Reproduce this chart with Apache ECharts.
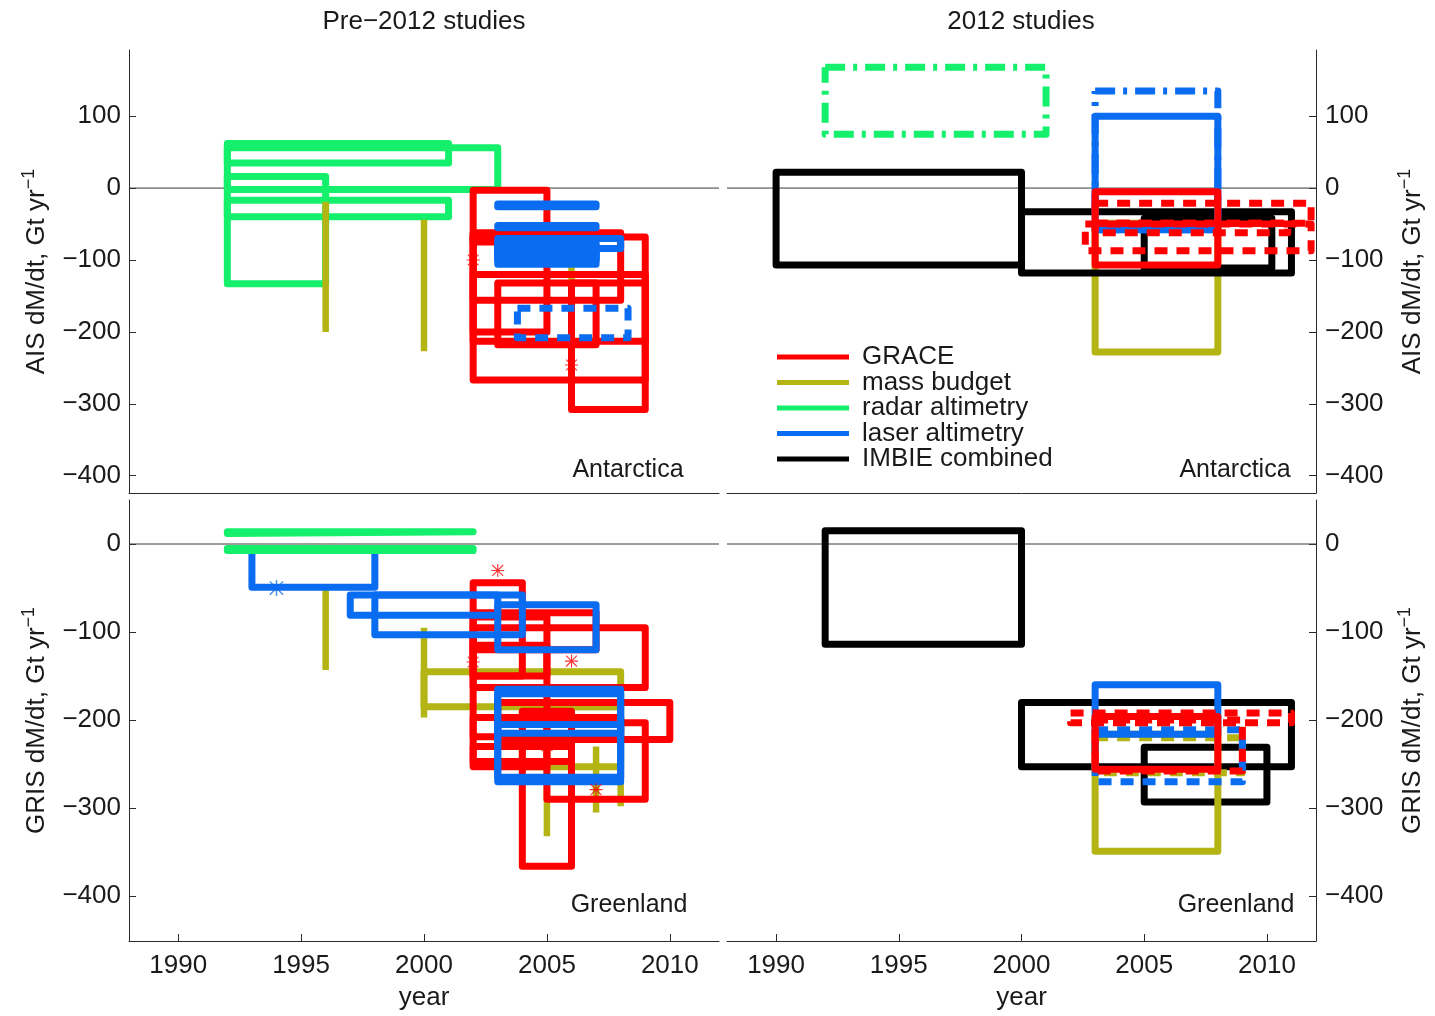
<!DOCTYPE html>
<html>
<head>
<meta charset="utf-8">
<script src="https://cdn.jsdelivr.net/npm/echarts@6/dist/echarts.min.js"></script>
<style>
  html, body { margin: 0; padding: 0; background: #fff; }
  #chart { width: 1435px; height: 1016px; }
</style>
</head>
<body>
<div id="chart"></div>
<script>
// ---- axis ticks and legend entries ----
const yearTicks = [1990, 1995, 2000, 2005, 2010];
const aisTicks = [-400, -300, -200, -100, 0, 100];
const grisTicks = [-400, -300, -200, -100, 0];
const legendNames = ['GRACE', 'mass budget', 'radar altimetry', 'laser altimetry', 'IMBIE combined'];

// ---- estimates ----
// boxes: [start year, end year, lower dM/dt, upper dM/dt]  (Gt/yr)
// bars:  [year, lower dM/dt, upper dM/dt]
// stars: [year, dM/dt]

// Antarctica, pre-2012 studies
const aisPreRadar = [[1992, 2001, 35, 62], [1992, 2003, -2, 56], [1992, 1996, -133, 16], [1992, 2001, -40, -17]];
const aisPreMassBudget = [[1996, -200, -19], [2000, -227, -44], [2006, -290, -108]];
const aisPreGrace = [
  [2002, 2005, -75, -3], [2002, 2008, -156, -62], [2002, 2009, -213, -68], [2002, 2009, -267, -120],
  [2006, 2009, -308, -132], [2003, 2007, -218, -132], [2002, 2005, -200, -66]
];
const aisPreGraceStars = [[2002, -100], [2006, -246]];
const aisPreLaser = [
  [2003, 2007, -26, -22], [2003, 2007, -55, -52], [2003, 2008, -84, -70],
  [2003, 2007, -92, -76], [2003, 2007, -98, -80], [2003, 2007, -100, -86], [2003, 2007, -106, -94]
];
const aisPreLaserDashed = [[2003.8, 2008.3, -208, -167]];

// Antarctica, 2012 studies
const aisNewRadarDashDot = [[1992, 2001, 75, 168]];
const aisNewMassBudget = [[2003, 2008, -228, -49]];
const aisNewImbie = [[1990, 2000, -107, 22], [2000, 2011, -118, -33], [2005, 2010.2, -111, -42]];
const aisNewLaser = [[2003, 2008, -58, 100]];
const aisNewLaserDashDot = [[2003, 2008, -58, 135]];
const aisNewGrace = [[2003, 2008, -107, -5]];
const aisNewGraceDashed = [[2003, 2011.8, -49, -21], [2002.6, 2011.8, -87, -50], [2003, 2010.85, -62, -49]];

// Greenland, pre-2012 studies
const grisPreRadar = [[1992, 2002, 12, 14], [1992, 2002, -7.5, -5]];
const grisPreMassBudget = [[1996, -143, -50], [2000, -197, -95], [2005, -332, -200], [2006, -301, -224], [2007, -305, -230], [2008, -298, -210]];
const grisPreMassBudgetBoxes = [[2000, 2008, -185, -145], [2004, 2008, -253, -185]];
const grisPreGrace = [
  [2002, 2004, -150, -44], [2002, 2007, -120, -78], [2002, 2009, -163, -95], [2002, 2005, -150, -83],
  [2002, 2005, -253, -115], [2002, 2008, -219, -197], [2002, 2006, -247, -230], [2003, 2010, -222, -180],
  [2005, 2009, -290, -203], [2004, 2006, -366, -190]
];
const grisPreGraceStars = [[2003, -30], [2002, -134], [2006, -133], [2005, -229], [2007, -279]];
const grisPreLaser = [
  [1993, 1998, -49, -7], [1997, 2003, -81, -58], [1998, 2004, -103, -58], [2003, 2007, -120, -69],
  [2003, 2008, -265, -165], [2003, 2008, -215, -170], [2003, 2008, -270, -205]
];
const grisPreLaserStars = [[1994, -50]];

// Greenland, 2012 studies
const grisNewImbie = [[1992, 2000, -114, 15], [2000, 2011, -253, -180], [2005, 2010, -293, -231]];
const grisNewMassBudget = [[2003, 2008, -349, -216]];
const grisNewMassBudgetDashed = [[2003, 2009, -260, -220]];
const grisNewLaser = [[2003, 2008, -216, -160]];
const grisNewLaserDashed = [[2003, 2009, -270, -211]];
const grisNewGrace = [[2003, 2008, -256, -196]];
const grisNewGraceDashed = [[2002, 2011, -203, -192], [2003, 2009, -258, -200]];

// ---- styling ----
const FONT = '"Liberation Sans", Arial, Helvetica, sans-serif';
const INK = '#1a1a1a';
const AXIS = '#2a2a2a';
const COL = { grace: '#ff0000', mass: '#b4b414', radar: '#14f06c', laser: '#0a6cf0', imbie: '#000000' };
const DASH = [13, 9];
const DASHDOT = [20, 8, 4, 8];
const LW = 7;
// panels: 0 AIS pre-2012, 1 AIS 2012, 2 GrIS pre-2012, 3 GrIS 2012

const series = [];

function addZeroLine(panel) {
  series.push({
    type: 'line', xAxisIndex: panel, yAxisIndex: panel, data: [[1988, 0], [2012, 0]],
    symbol: 'none', silent: true, animation: false, z: 1,
    lineStyle: { color: '#3a3a3a', width: 1 }
  });
}
function addBoxes(list, panel, name, color, dash) {
  list.forEach(b => series.push({
    type: 'line', name, xAxisIndex: panel, yAxisIndex: panel,
    data: [[b[0], b[3]], [b[1], b[3]], [b[1], b[2]], [b[0], b[2]], [b[0], b[3]]],
    symbol: 'none', silent: true, animation: false, clip: true, z: 2,
    lineStyle: { color, width: LW, type: dash || 'solid', cap: dash ? 'butt' : 'round', join: 'round' },
    itemStyle: { color }
  }));
}
function addBars(list, panel, name, color) {
  list.forEach(b => series.push({
    type: 'line', name, xAxisIndex: panel, yAxisIndex: panel,
    data: [[b[0], b[1]], [b[0], b[2]]],
    symbol: 'none', silent: true, animation: false, z: 2,
    lineStyle: { color, width: 6.5, cap: 'butt' },
    itemStyle: { color }
  }));
}
// eight-armed asterisk marker
const STAR = 'path://M11,0H13V24H11Z M0,11H24V13H0Z M2.7,1.3L22.7,21.3L21.3,22.7L1.3,2.7Z M21.3,1.3L22.7,2.7L2.7,22.7L1.3,21.3Z';
function addStars(list, panel, color, size) {
  series.push({
    type: 'scatter', xAxisIndex: panel, yAxisIndex: panel, data: list,
    symbol: STAR, symbolSize: size, silent: true, animation: false, z: 3,
    itemStyle: { color }
  });
}

// Antarctica, pre-2012
addZeroLine(0);
addBoxes(aisPreRadar, 0, 'radar altimetry', COL.radar);
addBars(aisPreMassBudget, 0, 'mass budget', COL.mass);
addBoxes(aisPreGrace, 0, 'GRACE', COL.grace);
addStars(aisPreGraceStars, 0, COL.grace, 13);
addBoxes(aisPreLaser, 0, 'laser altimetry', COL.laser);
addBoxes(aisPreLaserDashed, 0, 'laser altimetry', COL.laser, DASH);

// Antarctica, 2012
addZeroLine(1);
addBoxes(aisNewRadarDashDot, 1, 'radar altimetry', COL.radar, DASHDOT);
addBoxes(aisNewMassBudget, 1, 'mass budget', COL.mass);
addBoxes(aisNewImbie, 1, 'IMBIE combined', COL.imbie);
addBoxes(aisNewLaser, 1, 'laser altimetry', COL.laser);
addBoxes(aisNewLaserDashDot, 1, 'laser altimetry', COL.laser, DASHDOT);
addBoxes(aisNewGrace, 1, 'GRACE', COL.grace);
addBoxes(aisNewGraceDashed, 1, 'GRACE', COL.grace, DASH);

// Greenland, pre-2012
addZeroLine(2);
addBars(grisPreMassBudget, 2, 'mass budget', COL.mass);
addBoxes(grisPreMassBudgetBoxes, 2, 'mass budget', COL.mass);
addBoxes(grisPreGrace, 2, 'GRACE', COL.grace);
addBoxes(grisPreLaser, 2, 'laser altimetry', COL.laser);
addBoxes(grisPreRadar, 2, 'radar altimetry', COL.radar);
addStars(grisPreGraceStars, 2, COL.grace, 13);
addStars(grisPreLaserStars, 2, COL.laser, 16);

// Greenland, 2012
addZeroLine(3);
addBoxes(grisNewImbie, 3, 'IMBIE combined', COL.imbie);
addBoxes(grisNewMassBudget, 3, 'mass budget', COL.mass);
addBoxes(grisNewMassBudgetDashed, 3, 'mass budget', COL.mass, DASH);
addBoxes(grisNewLaser, 3, 'laser altimetry', COL.laser);
addBoxes(grisNewLaserDashed, 3, 'laser altimetry', COL.laser, DASH);
addBoxes(grisNewGrace, 3, 'GRACE', COL.grace);
addBoxes(grisNewGraceDashed, 3, 'GRACE', COL.grace, DASH);

// ---- axes ----
const minus = v => String(v).replace('-', '\u2212');
const plain = v => String(v);
function xAxis(i, bottom) {
  return {
    type: 'value', gridIndex: i, min: 1988, max: 2012,
    splitLine: { show: false },
    axisLine: { show: true, onZero: false, lineStyle: { color: AXIS, width: 1 } },
    axisTick: { show: bottom, inside: true, length: 7, customValues: yearTicks, lineStyle: { color: AXIS } },
    axisLabel: { show: bottom, customValues: yearTicks, formatter: plain, fontSize: 26, fontFamily: FONT, color: INK, margin: 12 },
    name: bottom ? 'year' : '', nameLocation: 'middle', nameGap: 44,
    nameTextStyle: { fontSize: 26, fontFamily: FONT, color: INK }
  };
}
function yAxis(i, right, min, max, ticks, region) {
  return {
    type: 'value', gridIndex: i, min, max, position: right ? 'right' : 'left',
    splitLine: { show: false },
    axisLine: { show: true, onZero: false, lineStyle: { color: AXIS, width: 1 } },
    axisTick: { show: true, inside: true, length: 7, customValues: ticks, lineStyle: { color: AXIS } },
    axisLabel: {
      customValues: ticks, formatter: minus, fontSize: 26, fontFamily: FONT, color: INK,
      margin: right ? 9 : 8, lineHeight: 26, padding: [6, 0, 0, 0]
    },
    name: '{m|' + region + ' dM/dt, Gt yr}{s|\u22121}',
    nameLocation: 'middle', nameGap: right ? 80 : 83, nameRotate: 90,
    nameTextStyle: {
      fontFamily: FONT, color: INK,
      rich: {
        m: { fontSize: 26, fontFamily: FONT, color: INK, lineHeight: 26, padding: [7, 0, 0, 0] },
        s: { fontSize: 18, fontFamily: FONT, color: INK, lineHeight: 18, verticalAlign: 'top' }
      }
    }
  };
}

const txt = (x, y, text, size) => ({
  type: 'text', x, y, silent: true,
  style: { text, font: size + 'px ' + FONT, fill: INK, textAlign: 'center', textVerticalAlign: 'middle', align: 'center', verticalAlign: 'middle' }
});

const option = {
  backgroundColor: '#ffffff',
  animation: false,
  grid: [
    { left: 129, top: 50, width: 590, height: 443 },
    { left: 727, top: 50, width: 589, height: 443 },
    { left: 129, top: 500, width: 590, height: 441 },
    { left: 727, top: 500, width: 589, height: 441 }
  ],
  xAxis: [xAxis(0, false), xAxis(1, false), xAxis(2, true), xAxis(3, true)],
  yAxis: [
    yAxis(0, false, -424, 192, aisTicks, 'AIS'),
    yAxis(1, true, -424, 192, aisTicks, 'AIS'),
    yAxis(2, false, -451, 50, grisTicks, 'GRIS'),
    yAxis(3, true, -451, 50, grisTicks, 'GRIS')
  ],
  legend: {
    data: legendNames.map(n => ({ name: n, icon: 'rect' })),
    orient: 'vertical', left: 777, top: 344, padding: 0,
    itemWidth: 72, itemHeight: 5, itemGap: -0.5, selectedMode: false,
    itemStyle: { borderWidth: 0 },
    textStyle: { fontSize: 26, fontFamily: FONT, color: INK, lineHeight: 24, padding: [0, 0, 0, 8] }
  },
  graphic: [
    txt(424, 22, 'Pre\u22122012 studies', 26),
    txt(1021, 22, '2012 studies', 26),
    txt(628, 470, 'Antarctica', 25),
    txt(1235, 470, 'Antarctica', 25),
    txt(629, 905, 'Greenland', 25),
    txt(1236, 905, 'Greenland', 25)
  ],
  series
};

const chart = echarts.init(document.getElementById('chart'), null, { renderer: 'canvas' });
chart.setOption(option);
</script>
</body>
</html>
